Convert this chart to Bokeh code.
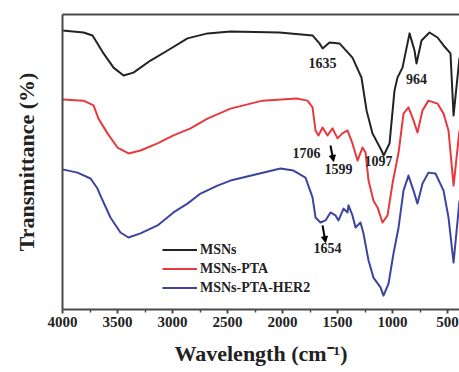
from bokeh.plotting import figure
from bokeh.models import (Range1d, LinearAxis, FixedTicker, Legend, LegendItem,
                          Arrow, NormalHead, ColumnDataSource)
from bokeh.embed import file_html
from bokeh.resources import INLINE
from bokeh.core.properties import value

# ---- data (wavenumber cm^-1, transmittance a.u.) ----
msn_wn = [4000, 3809, 3727, 3682, 3627, 3536, 3445, 3355, 3200, 3045, 2864, 2682, 2473,
          2027, 1727, 1664, 1635, 1573, 1482, 1364, 1282, 1236, 1182, 1100, 1080, 1027,
          982, 955, 909, 845, 800, 782, 736, 664, 591, 536, 473, 445, 391]
msn_t = [94.6, 93.9, 92.9, 90.2, 86.8, 82.0, 79.3, 80.3, 84.4, 87.8, 91.9, 93.6, 94.2,
         93.9, 92.9, 90.2, 88.5, 90.5, 90.2, 85.4, 78.6, 67.5, 59.7, 53.9, 52.2, 56.3,
         74.2, 78.6, 82.0, 93.6, 87.8, 83.4, 91.2, 93.9, 92.2, 89.5, 86.8, 65.8, 85.4]

pta_wn = [4000, 3809, 3718, 3673, 3591, 3500, 3400, 3291, 3136, 2991, 2836, 2682, 2473,
          2182, 1873, 1773, 1727, 1700, 1673, 1636, 1591, 1545, 1500, 1455, 1409, 1364,
          1318, 1273, 1245, 1218, 1173, 1136, 1091, 1045, 1000, 945, 900, 855, 809, 773,
          727, 673, 591, 536, 491, 445, 391]
pta_t = [71.2, 70.8, 69.2, 64.7, 59.7, 54.9, 52.9, 53.9, 56.3, 59.0, 61.4, 64.7, 68.1,
         70.8, 71.5, 70.8, 68.5, 60.7, 59.0, 61.7, 59.0, 61.4, 58.0, 59.7, 60.7, 56.3,
         50.5, 54.9, 53.2, 43.7, 36.9, 34.6, 29.5, 31.9, 42.7, 53.2, 66.4, 68.5, 64.1, 60.0,
         67.5, 70.8, 69.8, 66.4, 60.7, 42.0, 60.7]

her_wn = [4000, 3864, 3745, 3682, 3655, 3564, 3473, 3400, 3291, 3136, 2991, 2864, 2745,
          2591, 2473, 2018, 1900, 1791, 1727, 1700, 1655, 1609, 1564, 1518, 1491, 1445,
          1409, 1400, 1364, 1336, 1291, 1264, 1218, 1173, 1109, 1082, 1036, 991, 945, 900,
          855, 809, 773, 727, 673, 609, 536, 491, 445, 391]
her_t = [47.5, 46.4, 44.4, 41.0, 38.6, 31.2, 26.1, 24.4, 25.8, 28.5, 32.9, 35.9, 39.3,
         42.0, 43.7, 47.8, 47.1, 44.7, 38.0, 31.2, 29.5, 30.2, 32.9, 31.9, 30.2, 34.2,
         32.9, 35.3, 31.9, 27.8, 29.5, 25.8, 16.6, 10.8, 7.5, 4.7, 8.8, 19.0, 27.8, 40.3,
         45.4, 40.3, 35.9, 42.7, 46.4, 46.1, 40.3, 31.2, 15.9, 36.9]

series_names = ["MSNs", "MSNs-PTA", "MSNs-PTA-HER2"]
series_colors = ["#222222", "#e63a40", "#3d44a0"]

x_ticks = [4000, 3500, 3000, 2500, 2000, 1500, 1000, 500]
x_minor = [3750, 3250, 2750, 2250, 1750, 1250, 750]

ann_text = ["1635", "964", "1706", "1599", "1097", "1654"]
ann_wn = [1636, 782, 1782, 1491, 1127, 1591]
ann_t = [83.7, 78.0, 53.2, 47.5, 50.5, 20.7]

arr_wn0 = [1564, 1636]
arr_t0 = [55.6, 28.5]
arr_wn1 = [1536, 1609]
arr_t1 = [50.2, 22.7]

SERIF = "Liberation Serif"

p = figure(width=459, height=372, output_backend="svg", toolbar_location=None,
           x_range=Range1d(4000, 391), y_range=Range1d(0, 100),
           x_axis_location=None, y_axis_location=None,
           min_border_left=62, min_border_right=0, min_border_top=14, min_border_bottom=63)
p.outline_line_color = None
p.grid.visible = False
p.background_fill_color = "white"
p.border_fill_color = "white"

AX = "#4a4a4a"
xaxis = LinearAxis(ticker=FixedTicker(ticks=x_ticks, minor_ticks=x_minor))
xaxis.axis_label = "Wavelength (cm\u207b\u00b9)"
xaxis.axis_label_text_font = SERIF
xaxis.axis_label_text_font_style = "bold"
xaxis.axis_label_text_font_size = "22px"
xaxis.axis_label_text_color = "#222222"
xaxis.axis_label_standoff = 11
xaxis.major_label_text_font = SERIF
xaxis.major_label_text_font_style = "bold"
xaxis.major_label_text_font_size = "15px"
xaxis.major_label_text_color = "#222222"
xaxis.major_label_standoff = 3
xaxis.axis_line_color = AX
xaxis.axis_line_width = 2
xaxis.major_tick_line_color = AX
xaxis.major_tick_line_width = 2
xaxis.minor_tick_line_color = AX
xaxis.minor_tick_line_width = 1.5
xaxis.major_tick_out = 4
xaxis.major_tick_in = 0
xaxis.minor_tick_out = 3
xaxis.minor_tick_in = 0
p.add_layout(xaxis, "below")

yaxis = LinearAxis(ticker=FixedTicker(ticks=[]))
yaxis.axis_label = "Transmittance (%)"
yaxis.axis_label_text_font = SERIF
yaxis.axis_label_text_font_style = "bold"
yaxis.axis_label_text_font_size = "22px"
yaxis.axis_label_text_color = "#222222"
yaxis.axis_label_standoff = 24
yaxis.major_label_text_font_size = "0px"
yaxis.axis_line_color = AX
yaxis.axis_line_width = 2
yaxis.major_tick_line_color = None
yaxis.minor_tick_line_color = None
p.add_layout(yaxis, "left")

topaxis = LinearAxis(ticker=FixedTicker(ticks=[]))
topaxis.major_label_text_font_size = "0px"
topaxis.axis_line_color = AX
topaxis.axis_line_width = 2
topaxis.major_tick_line_color = None
topaxis.minor_tick_line_color = None
p.add_layout(topaxis, "above")

renderers = []
for wn, t, c in zip([msn_wn, pta_wn, her_wn], [msn_t, pta_t, her_t], series_colors):
    r = p.line(wn, t, line_color=c, line_width=2, line_join="round")
    renderers.append(r)

legend = Legend(items=[LegendItem(label=n, renderers=[r]) for n, r in zip(series_names, renderers)],
                location=(100, 12), padding=0, margin=0, spacing=0,
                glyph_width=35, glyph_height=19, label_height=19, label_standoff=3,
                label_text_font=SERIF, label_text_font_style="bold",
                label_text_font_size="14px", label_text_color="#222222",
                border_line_color=None, background_fill_alpha=0)
p.add_layout(legend, "center")

src = ColumnDataSource(dict(x=ann_wn, y=ann_t, text=ann_text))
p.text(x="x", y="y", text="text", source=src, text_font=value(SERIF),
       text_font_style="bold", text_font_size="14px", text_color="#222222",
       text_align="center", text_baseline="middle")

for x0, y0, x1, y1 in zip(arr_wn0, arr_t0, arr_wn1, arr_t1):
    p.add_layout(Arrow(x_start=x0, y_start=y0, x_end=x1, y_end=y1, line_color="black",
                       line_width=2, end=NormalHead(size=6, fill_color="black", line_color="black")))

open("out.html", "w").write(file_html(p, INLINE))
